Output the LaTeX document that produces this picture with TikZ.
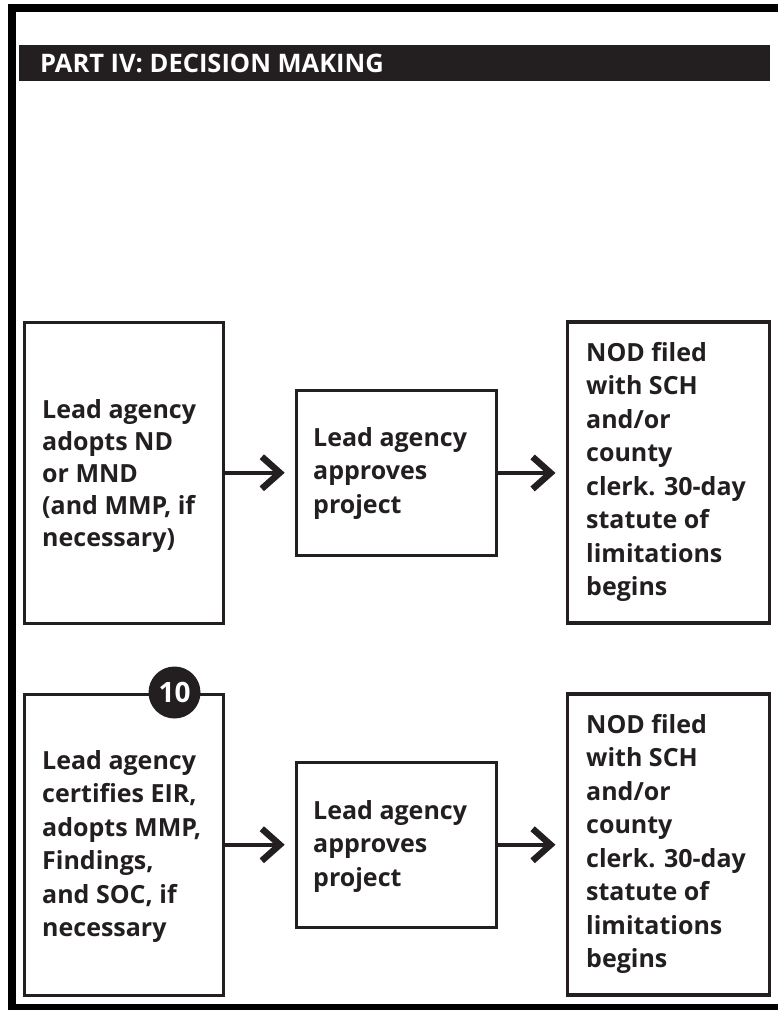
\documentclass[tikz,border=0pt]{standalone}
\usepackage{fontspec}
\setmainfont{Open Sans}
\usetikzlibrary{arrows.meta}
\definecolor{ink}{HTML}{231F20}
\begin{document}
\begin{tikzpicture}[x=1pt,y=-1pt,
  stepbox/.style={draw=ink, line width=3.5pt, inner sep=0pt, anchor=north west},
  txt/.style={anchor=north west, inner sep=0pt, align=left,
    font=\fontsize{25}{33.5}\selectfont\bfseries, text=ink},
  flow/.style={draw=ink, line width=3.5pt,
    -{Straight Barb[length=18pt,width=32pt,line width=6.5pt]}, shorten >=10pt}
]
\useasboundingbox (0,0) rectangle (778,1010);

% outer frame (open to the right)
\draw[line width=8pt] (790,8) -- (11.5,8) -- (11.5,1008) -- (790,1008);

% section header
\node[fill=ink, minimum width=751pt, minimum height=36pt, inner sep=0pt,
      anchor=north west] (hdr) at (19,45) {};
\node[anchor=west, inner sep=0pt, text=white,
      font=\fontsize{25.5}{27}\selectfont\bfseries] (hdrtext) at (40,63.5)
      {PART IV: DECISION MAKING};

% first row: negative declaration path
\node[stepbox, minimum width=199pt, minimum height=301pt] (A) at (22.7,320.5) {};
\node[stepbox, minimum width=200pt, minimum height=165pt] (B) at (294.7,388.7) {};
\node[stepbox, minimum width=202pt, minimum height=301pt] (C) at (565.5,320) {};
\node[txt, font=\fontsize{25}{32}\selectfont\bfseries] (Atext) at (42,399)
  {Lead agency\\adopts ND\\or MND\\(and MMP, if\\necessary)};
\node[txt] (Btext) at (313,427) {Lead agency\\approves\\project};
\node[txt] (Ctext) at (586,342) {NOD filed\\with SCH\\and/or\\county\\clerk. 30-day\\statute of\\limitations\\begins};
\draw[flow] (A.east) -- (A.east -| B.west);
\draw[flow] (B.east) -- (B.east -| C.west);

% second row: EIR path
\node[stepbox, minimum width=199pt, minimum height=301pt] (D) at (22.7,692.5) {};
\node[stepbox, minimum width=200pt, minimum height=165pt] (E) at (294.7,760.5) {};
\node[stepbox, minimum width=202pt, minimum height=301pt] (F) at (565.5,692) {};
\node[txt] (Dtext) at (42,750) {Lead agency\\certifies EIR,\\adopts MMP,\\Findings,\\and SOC, if\\necessary};
\node[txt] (Etext) at (313,800) {Lead agency\\approves\\project};
\node[txt] (Ftext) at (586,714) {NOD filed\\with SCH\\and/or\\county\\clerk. 30-day\\statute of\\limitations\\begins};
\draw[flow] (D.east) -- (D.east -| E.west);
\draw[flow] (E.east) -- (E.east -| F.west);

% step number badge
\node[circle, fill=ink, minimum size=52pt, inner sep=0pt, text=white,
      font=\fontsize{28}{30}\selectfont\bfseries] (badge) at (174.5,692.5) {10};
\end{tikzpicture}
\end{document}
